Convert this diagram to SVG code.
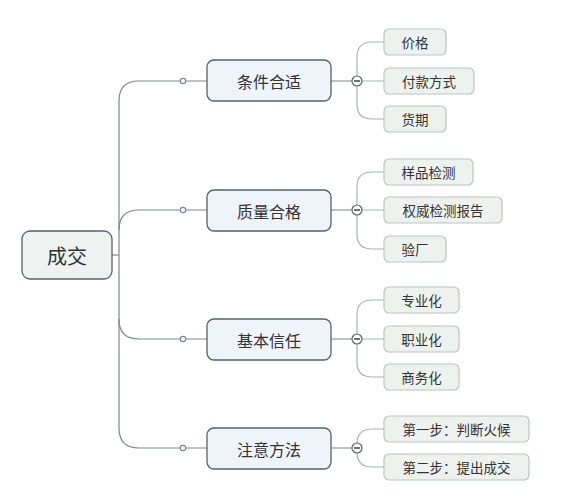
<svg xmlns="http://www.w3.org/2000/svg" width="572" height="496" viewBox="0 0 572 496">
<style>
.root{fill:#eef3f2;stroke:#56626a;stroke-width:1.3}
.l1{fill:#eef4f9;stroke:#56626a;stroke-width:1.3}
.l2{fill:#eef2ef;stroke:#b9c5c1;stroke-width:1.2}
text{font-family:"Noto Sans CJK SC","Noto Sans",sans-serif;fill:#333;text-anchor:middle;dominant-baseline:central}
.t0{font-size:20px}
.t1{font-size:16px}
.t2{font-size:13.5px}
.main{fill:none;stroke:#7d878d;stroke-width:1.2}
.sub{fill:none;stroke:#aab5b2;stroke-width:1.2}
.dot{fill:#fff;stroke:#7d878d;stroke-width:1.2}
.minus{fill:#fff;stroke:#56626a;stroke-width:1.2}
</style>
<rect width="572" height="496" fill="#fff"/>
<g id="connectors">
<path class="main" d="M112,255 H119"/>
<path class="main" d="M119,101 Q119,81 139,81 H180.5 M185.5,81 H207"/>
<path class="main" d="M119,230 Q119,210 139,210 H180.5 M185.5,210 H207"/>
<path class="main" d="M119,101 V428 Q119,448 139,448 H180.5 M185.5,448 H207"/>
<path class="main" d="M119,319 Q119,339 139,339 H180.5 M185.5,339 H207"/>
<circle class="dot" cx="183" cy="81" r="2.7"/>
<circle class="dot" cx="183" cy="210" r="2.7"/>
<circle class="dot" cx="183" cy="339" r="2.7"/>
<circle class="dot" cx="183" cy="448" r="2.7"/>
<path class="main" d="M331,81 H352 M331,210 H352 M331,339 H352 M331,448 H352"/>
<path class="sub" d="M357,76 V57 Q357,42 372,42 H384 M362,81 H384 M357,86 V104 Q357,119 372,119 H384"/>
<path class="sub" d="M357,205 V187 Q357,172 372,172 H384 M362,210 H384 M357,215 V234 Q357,249 372,249 H384"/>
<path class="sub" d="M357,334 V315 Q357,300 372,300 H384 M362,339 H384 M357,344 V362 Q357,377 372,377 H384"/>
<path class="sub" d="M357,443 V444 Q357,429 372,429 H384 M357,453 V452 Q357,467 372,467 H384"/>
<g class="minus"><circle cx="357" cy="81" r="5"/><circle cx="357" cy="210" r="5"/><circle cx="357" cy="339" r="5"/><circle cx="357" cy="448" r="5"/></g>
<path d="M354,81 H360 M354,210 H360 M354,339 H360 M354,448 H360" stroke="#444" stroke-width="1.3"/>
</g>
<g id="root"><rect class="root" x="22" y="231" width="90" height="48" rx="8"/><text class="t0" x="67" y="255">成交</text></g>
<g id="n1"><rect class="l1" x="207" y="60" width="124" height="41" rx="7"/><text class="t1" x="269" y="80.5">条件合适</text></g>
<g id="n2"><rect class="l1" x="207" y="190" width="124" height="41" rx="7"/><text class="t1" x="269" y="210.5">质量合格</text></g>
<g id="n3"><rect class="l1" x="207" y="319" width="124" height="41" rx="7"/><text class="t1" x="269" y="339.5">基本信任</text></g>
<g id="n4"><rect class="l1" x="207" y="428" width="124" height="41" rx="7"/><text class="t1" x="269" y="448.5">注意方法</text></g>
<g id="c11"><rect class="l2" x="384" y="29" width="62" height="26" rx="5"/><text class="t2" x="415" y="42">价格</text></g>
<g id="c12"><rect class="l2" x="384" y="68" width="90" height="26" rx="5"/><text class="t2" x="429" y="81">付款方式</text></g>
<g id="c13"><rect class="l2" x="384" y="106" width="62" height="26" rx="5"/><text class="t2" x="415" y="119">货期</text></g>
<g id="c21"><rect class="l2" x="384" y="159" width="89" height="26" rx="5"/><text class="t2" x="428.5" y="172">样品检测</text></g>
<g id="c22"><rect class="l2" x="384" y="197" width="118" height="26" rx="5"/><text class="t2" x="443" y="210">权威检测报告</text></g>
<g id="c23"><rect class="l2" x="384" y="236" width="62" height="26" rx="5"/><text class="t2" x="415" y="249">验厂</text></g>
<g id="c31"><rect class="l2" x="384" y="287" width="75" height="26" rx="5"/><text class="t2" x="421.5" y="300">专业化</text></g>
<g id="c32"><rect class="l2" x="384" y="326" width="75" height="26" rx="5"/><text class="t2" x="421.5" y="339">职业化</text></g>
<g id="c33"><rect class="l2" x="384" y="364" width="75" height="26" rx="5"/><text class="t2" x="421.5" y="377">商务化</text></g>
<g id="c41"><rect class="l2" x="384" y="416" width="145" height="26" rx="5"/><text class="t2" x="456.5" y="429">第一步：判断火候</text></g>
<g id="c42"><rect class="l2" x="384" y="454" width="145" height="26" rx="5"/><text class="t2" x="456.5" y="467">第二步：提出成交</text></g>
</svg>
